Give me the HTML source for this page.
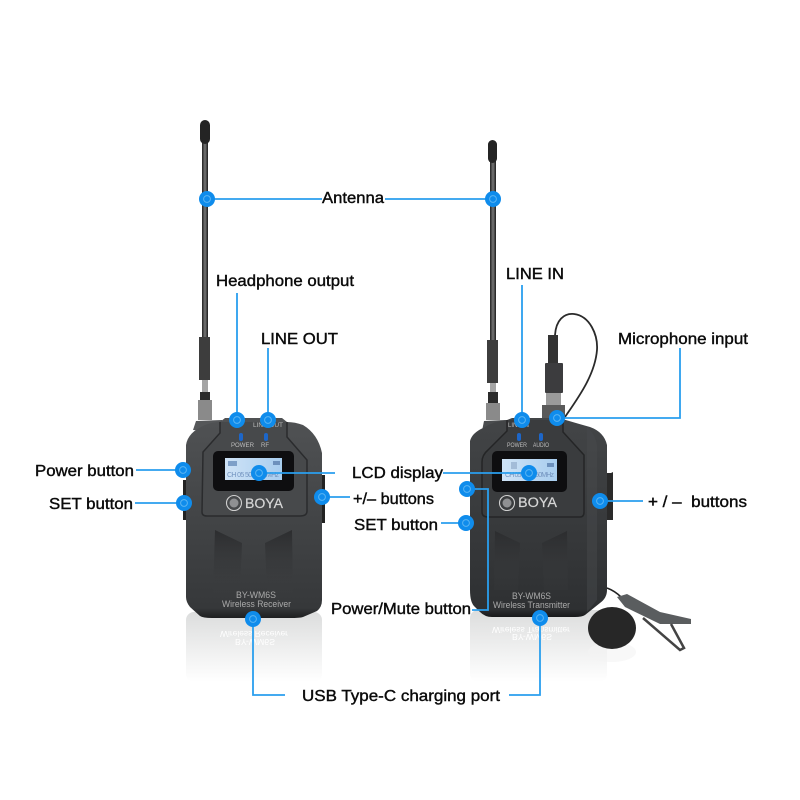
<!DOCTYPE html>
<html><head><meta charset="utf-8"><style>
html,body{margin:0;padding:0;background:#fff}
svg{display:block}
.l{font-family:"Liberation Sans",sans-serif;font-size:16px;fill:#0a0a0a;stroke:#0a0a0a;stroke-width:.4px}
.s{font-family:"Liberation Sans",sans-serif;fill:#bdbdbd}
.c{stroke:#2a9fee;stroke-width:1.8;fill:none}
</style></head><body>
<svg width="800" height="800" viewBox="0 0 800 800" xmlns="http://www.w3.org/2000/svg">
<defs>
<linearGradient id="b" x1="0" y1="0" x2="0" y2="1"><stop offset="0" stop-color="#505254"/><stop offset=".55" stop-color="#414345"/><stop offset=".95" stop-color="#36383a"/><stop offset="1" stop-color="#1e1f20"/></linearGradient>
<linearGradient id="t" x1="0" y1="0" x2="0" y2="1"><stop offset="0" stop-color="#434547"/><stop offset=".6" stop-color="#36383a"/><stop offset=".96" stop-color="#2e3032"/><stop offset="1" stop-color="#18191a"/></linearGradient>
<linearGradient id="r" x1="0" y1="0" x2="0" y2="1"><stop offset="0" stop-color="#dcdddd"/><stop offset="1" stop-color="#fff"/></linearGradient>
<linearGradient id="ant" x1="0" y1="0" x2="1" y2="0"><stop offset="0" stop-color="#222"/><stop offset=".5" stop-color="#777"/><stop offset="1" stop-color="#1c1c1c"/></linearGradient>
<linearGradient id="scr" x1="0" y1="0" x2="1" y2="0"><stop offset="0" stop-color="#cfe3f6"/><stop offset="1" stop-color="#a8cdef"/></linearGradient>
<linearGradient id="fold" x1="0" y1="0" x2="0" y2="1"><stop offset="0" stop-color="#2c2d2f"/><stop offset="1" stop-color="#3c3e40" stop-opacity=".1"/></linearGradient>
<g id="dot"><circle r="8" fill="#0f8cec"/><circle r="3.4" fill="none" stroke="#5ab4f2" stroke-width="1"/></g>
</defs>
<rect width="800" height="800" fill="#fff"/>

<!-- reflections -->
<rect x="186" y="612" width="136" height="70" rx="8" fill="url(#r)"/>
<rect x="470" y="610" width="137" height="72" rx="8" fill="url(#r)"/>

<!-- receiver antenna -->
<rect x="202" y="140" width="6" height="200" fill="url(#ant)"/>
<rect x="200" y="120" width="10" height="24" rx="5" fill="#242424"/>
<rect x="199" y="337" width="11" height="43" fill="#3d3d3d"/>
<rect x="202" y="380" width="6" height="12" fill="#a5a5a5"/>
<rect x="200" y="392" width="10" height="8" fill="#2b2b2b"/>
<rect x="198" y="400" width="14" height="20" fill="#8a8a8a"/>

<!-- receiver -->
<path d="M193 430 L196 421 L222 420 L222 432Z" fill="#555759"/>
<path d="M183 480h4v40h-4z" fill="#222"/><path d="M321 475h4v48h-4z" fill="#222"/>
<path d="M186 445Q188 432 205 425Q212 422 220 422L225 418L282 418L287 422Q295 422 303 425Q318 434 322 453L322 600Q322 607 317 611L303 617Q300 618 290 618L212 618Q203 618 200 616L190 607Q186 602 186 597Z" fill="url(#b)"/>
<path d="M220 422V433L203 452L202 512Q202 516 207 516H300Q307 516 307 511V460L287 437V422" fill="#47494b" stroke="#2a2b2d" stroke-width="1.500"/>
<rect x="213" y="451" width="81" height="40" rx="5" fill="#0e0e10"/>
<rect x="225" y="458" width="57" height="22" fill="url(#scr)"/>
<rect x="228" y="461" width="9" height="5" fill="#7ea0c8"/>
<rect x="273" y="461" width="7" height="4" fill="#6d91bd"/>
<text x="227" y="477" font-family="Liberation Sans,sans-serif" font-size="7" fill="#7394c0" textLength="52">CH 05 502.150MHz</text>
<path d="M215 530L242 543L240 593L213 593Z M292 530L265 543L267 593L293 593Z" fill="url(#fold)"/>
<circle cx="234" cy="503" r="7.500" fill="none" stroke="#cfcfcf" stroke-width="1.100"/>
<circle cx="234" cy="503" r="4.500" fill="#8f9092"/>
<text x="245" y="508" class="s" font-size="13.500" stroke="#d6d6d6" stroke-width=".2" textLength="38" lengthAdjust="spacingAndGlyphs" style="fill:#d6d6d6">BOYA</text>
<text x="231" y="447" class="s" font-size="6.500" textLength="23" lengthAdjust="spacingAndGlyphs">POWER</text>
<text x="261" y="447" class="s" font-size="6.500" textLength="8" lengthAdjust="spacingAndGlyphs">RF</text>
<text x="253" y="427" class="s" font-size="6.500" textLength="30" lengthAdjust="spacingAndGlyphs">LINE OUT</text>
<rect x="239" y="433" width="4" height="8" rx="2" fill="#1d66c8"/><rect x="264" y="433" width="4" height="8" rx="2" fill="#1d66c8"/>
<text x="236" y="598" class="s" font-size="9" textLength="40" lengthAdjust="spacingAndGlyphs" style="fill:#aaa">BY-WM6S</text>
<text x="222" y="607" class="s" font-size="9" textLength="69" lengthAdjust="spacingAndGlyphs" style="fill:#aaa">Wireless Receiver</text>
<text transform="translate(220 631) scale(1 -1)" class="s" font-size="8.500" textLength="68" lengthAdjust="spacingAndGlyphs" style="fill:#fff">Wireless Receiver</text>
<text transform="translate(235 639) scale(1 -1)" class="s" font-size="8.500" textLength="40" lengthAdjust="spacingAndGlyphs" style="fill:#fff">BY-WM6S</text>

<!-- transmitter antenna -->
<rect x="490" y="160" width="6" height="182" fill="url(#ant)"/>
<rect x="488" y="140" width="9" height="23" rx="4.500" fill="#242424"/>
<rect x="487" y="340" width="11" height="43" fill="#3d3d3d"/>
<rect x="490" y="383" width="6" height="9" fill="#a5a5a5"/>
<rect x="488" y="392" width="10" height="11" fill="#2b2b2b"/>
<rect x="486" y="403" width="14" height="17" fill="#8a8a8a"/>

<!-- transmitter -->
<path d="M482 431 L484 421 L506 420 L506 431Z" fill="#4a4c4e"/>
<path d="M555 335C556 320 564 313 574 314C590 316 598 335 597 350C595 375 578 398 565 417" fill="none" stroke="#2a2a2a" stroke-width="1.800"/>
<rect x="548" y="335" width="10" height="28" fill="#333"/>
<rect x="545" y="363" width="18" height="30" rx="1" fill="#3c3c3e"/>
<rect x="546" y="393" width="15" height="12" fill="#9a9a9a"/>
<rect x="542" y="405" width="23" height="13" fill="#5a5a5a"/>
<path d="M606 473h5l2 -1v48h-7z" fill="#2a2a2a"/>
<path d="M470 441Q472 433 483 428Q494 421 507 420L512 418L560 418Q565 420 590 427Q604 432 607 445L607 590Q607 598 600 603L585 615Q582 617 575 617L492 617Q485 617 480 612L475 607Q470 603 470 590Z" fill="url(#t)"/>
<path d="M588 428Q596 436 597 446V600L587 612V428Z" fill="#4a4c4e" opacity=".45"/>
<path d="M507 420V431L488 450Q482 455 482 462V512Q482 517 488 517H580Q584 517 584 512V455L563 432V420" fill="#3a3c3e" stroke="#242526" stroke-width="1.500"/>
<rect x="492" y="451" width="75" height="41" rx="5" fill="#0e0e10"/>
<rect x="502" y="459" width="55" height="22" fill="url(#scr)"/>
<rect x="511" y="462" width="6" height="7" fill="#a3bcd8"/>
<rect x="547" y="463" width="7" height="4" fill="#6d91bd"/>
<text x="505" y="477" font-family="Liberation Sans,sans-serif" font-size="7" fill="#7394c0" textLength="49">CH 05 502.150MHz</text>
<path d="M495 531L520 543L518 590L494 590Z M567 531L542 543L544 590L568 590Z" fill="url(#fold)"/>
<circle cx="507" cy="503" r="7.500" fill="none" stroke="#cfcfcf" stroke-width="1.100"/>
<circle cx="507" cy="503" r="4.500" fill="#8f9092"/>
<text x="518" y="507" class="s" font-size="13.500" stroke="#d6d6d6" stroke-width=".2" textLength="39" lengthAdjust="spacingAndGlyphs" style="fill:#d6d6d6">BOYA</text>
<text x="507" y="447" class="s" font-size="6.500" textLength="20" lengthAdjust="spacingAndGlyphs">POWER</text>
<text x="533" y="447" class="s" font-size="6.500" textLength="16" lengthAdjust="spacingAndGlyphs">AUDIO</text>
<text x="508" y="427" class="s" font-size="6.500" textLength="21" lengthAdjust="spacingAndGlyphs">LINE IN</text>
<rect x="517" y="433" width="4" height="8" rx="2" fill="#1d66c8"/><rect x="539" y="433" width="4" height="8" rx="2" fill="#1d66c8"/>
<text x="512" y="599" class="s" font-size="9" textLength="39" lengthAdjust="spacingAndGlyphs" style="fill:#aaa">BY-WM6S</text>
<text x="493" y="608" class="s" font-size="9" textLength="77" lengthAdjust="spacingAndGlyphs" style="fill:#aaa">Wireless Transmitter</text>
<text transform="translate(492 627) scale(1 -1)" class="s" font-size="8.500" textLength="78" lengthAdjust="spacingAndGlyphs" style="fill:#fff">Wireless Transmitter</text>
<text transform="translate(512 634) scale(1 -1)" class="s" font-size="8.500" textLength="40" lengthAdjust="spacingAndGlyphs" style="fill:#fff">BY-WM6S</text>

<!-- lav mic -->
<ellipse cx="612" cy="652" rx="24" ry="10" fill="#f3f3f3" opacity=".6"/>
<path d="M607 588Q615 591 621 597" fill="none" stroke="#222" stroke-width="1.600"/>
<path d="M617 597L627 594L660 612L691 619L691 624L660 624L625 607Z" fill="#5a5d5f"/>
<path d="M643 618L680 650L684 648L671 624" fill="none" stroke="#444" stroke-width="2.500"/>
<ellipse cx="612" cy="628" rx="24" ry="21" fill="#272727"/>

<!-- connectors -->
<path class="c" d="M207 199H322M385 199H493M237 293V420M268 348V420M522 285V420M557 418H680V348M136 470H183M135 503H183M259 473H335M443 473H529M322 497H350M600 501H643M441 523H466M467 489H488V610H472M253 619V695H285M540 618V695H509"/>
<use href="#dot" x="207" y="199"/><use href="#dot" x="493" y="199"/>
<use href="#dot" x="237" y="420"/><use href="#dot" x="268" y="420"/>
<use href="#dot" x="183" y="470"/><use href="#dot" x="184" y="503"/>
<use href="#dot" x="322" y="497"/><use href="#dot" x="259" y="473"/><use href="#dot" x="253" y="619"/>
<use href="#dot" x="522" y="420"/><use href="#dot" x="557" y="418"/>
<use href="#dot" x="467" y="489"/><use href="#dot" x="466" y="523"/>
<use href="#dot" x="529" y="473"/><use href="#dot" x="600" y="501"/><use href="#dot" x="540" y="618"/>

<!-- labels -->
<text class="l" x="322" y="203" textLength="62" lengthAdjust="spacingAndGlyphs">Antenna</text>
<text class="l" x="216" y="286" textLength="138" lengthAdjust="spacingAndGlyphs">Headphone output</text>
<text class="l" x="261" y="344" textLength="77" lengthAdjust="spacingAndGlyphs">LINE OUT</text>
<text class="l" x="506" y="279" textLength="58" lengthAdjust="spacingAndGlyphs">LINE IN</text>
<text class="l" x="618" y="344" textLength="130" lengthAdjust="spacingAndGlyphs">Microphone input</text>
<text class="l" x="35" y="476" textLength="99" lengthAdjust="spacingAndGlyphs">Power button</text>
<text class="l" x="49" y="509" textLength="84" lengthAdjust="spacingAndGlyphs">SET button</text>
<text class="l" x="352" y="478" textLength="91" lengthAdjust="spacingAndGlyphs">LCD display</text>
<text class="l" x="353" y="504" textLength="81" lengthAdjust="spacingAndGlyphs">+/– buttons</text>
<text class="l" x="648" y="507" textLength="99" lengthAdjust="spacingAndGlyphs" xml:space="preserve">+ / –  buttons</text>
<text class="l" x="354" y="530" textLength="84" lengthAdjust="spacingAndGlyphs">SET button</text>
<text class="l" x="331" y="614" textLength="140" lengthAdjust="spacingAndGlyphs">Power/Mute button</text>
<text class="l" x="302" y="701" textLength="198" lengthAdjust="spacingAndGlyphs">USB Type-C charging port</text>
</svg>
</body></html>
